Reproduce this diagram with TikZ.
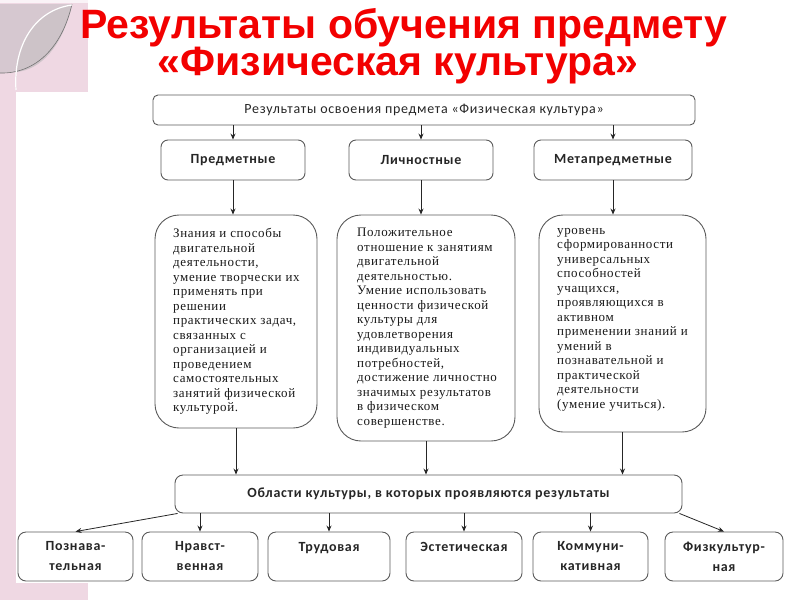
\documentclass[tikz,border=0pt]{standalone}
\usepackage{fontspec}
\setmainfont{Liberation Serif}
\newfontfamily\boxfont[LetterSpace=5]{Liberation Serif}
\newfontfamily\calfont[LetterSpace=5]{Carlito}
\newfontfamily\titlefont{Liberation Sans}
\usepackage{tikz}
\usetikzlibrary{arrows.meta}
\definecolor{pinkbg}{HTML}{EFD8E3}
\definecolor{leafgrey}{HTML}{D6C8D0}
\definecolor{lensgrey}{HTML}{CDC3C8}
\definecolor{boxgrey}{HTML}{5A5A5A}
\definecolor{titlered}{HTML}{F20000}

\begin{document}
\begin{tikzpicture}[x=1pt,y=-1pt,
    main_box/.style={draw=boxgrey, line width=0.9pt, rounded corners=5pt, inner sep=0pt,
        font=\calfont\fontsize{14}{16}\selectfont, text=black!85},
    head_box/.style={main_box, rounded corners=7pt, font=\calfont\bfseries\fontsize{14}{16}\selectfont},
    text_box/.style={draw=boxgrey, line width=0.9pt, rounded corners=24pt, inner sep=0pt},
    area_box/.style={head_box, rounded corners=8pt, align=center, font=\calfont\bfseries\fontsize{14}{20}\selectfont},
    box_text/.style={anchor=north west, align=left, inner sep=0pt, text=black!90,
        font=\boxfont\fontsize{13}{14.5}\selectfont},
    arr/.style={-{Stealth[length=6pt,width=5pt]}, line width=0.8pt, black!85}]
    \useasboundingbox (0,0) rectangle (800,600);

    % pink frame at the left
    \fill[pinkbg] (0,0) rectangle (16,600);
    \fill[pinkbg] (0,0) rectangle (88,92);
    \fill[pinkbg] (0,583) rectangle (88,600);
    \fill[leafgrey] (0,4) -- (0,73) .. controls (35,74) and (62,48) .. (72,4) -- cycle;
    \fill[lensgrey] (16,90) .. controls (13,45) and (35,10) .. (72,5) .. controls (62,48) and (40,70) .. (16,72) -- cycle;
    \draw[black!55, line width=0.6pt] (0,73) .. controls (35,74) and (62,48) .. (72,4);
    \draw[white, line width=1.2pt] (16,90) .. controls (13,45) and (35,10) .. (72,5);
    \fill[white!70!pinkbg] (0,0) rectangle (88,3);

    % title
    \node[text=titlered, font=\titlefont\bfseries\fontsize{41}{44}\selectfont] (t1) at (404,28) {Результаты обучения предмету};
    \node[text=titlered, font=\titlefont\bfseries\fontsize{41}{44}\selectfont] (t2) at (398,66) {«Физическая культура»};

    % boxes
    \node[main_box, minimum width=542pt, minimum height=30pt] (1) at (424,110) {Результаты освоения предмета «Физическая культура»};
    \node[head_box, minimum width=144pt, minimum height=40pt] (2) at (233,160) {Предметные};
    \node[head_box, minimum width=144pt, minimum height=40pt] (3) at (421,160) {Личностные};
    \node[head_box, minimum width=158pt, minimum height=40pt] (4) at (613,160) {Метапредметные};

    \node[text_box, minimum width=162pt, minimum height=213pt] (5) at (236,321.5) {};
    \node[text_box, minimum width=178pt, minimum height=226pt] (6) at (426,328) {};
    \node[text_box, minimum width=167pt, minimum height=217pt] (7) at (622.5,323.5) {};

    \node[box_text] (5t) at (173,228) {Знания и способы\\двигательной\\деятельности,\\умение творчески их\\применять при\\решении\\практических задач,\\связанных с\\организацией и\\проведением\\самостоятельных\\занятий физической\\культурой.};
    \node[box_text] (6t) at (357,228) {Положительное\\отношение к занятиям\\двигательной\\деятельностью.\\Умение использовать\\ценности физической\\культуры для\\удовлетворения\\индивидуальных\\потребностей,\\достижение личностно\\значимых результатов\\в физическом\\совершенстве.};
    \node[box_text] (7t) at (557,228) {уровень\\сформированности\\универсальных\\способностей\\учащихся,\\проявляющихся в\\активном\\применении знаний и\\умений в\\познавательной и\\практической\\деятельности\\(умение учиться).};

    \node[head_box, rounded corners=8pt, minimum width=507pt, minimum height=38pt] (8) at (428.5,494) {Области культуры, в которых проявляются результаты};

    \node[area_box, minimum width=115pt, minimum height=49pt] (9) at (75.5,556.5) {Познава-\\тельная};
    \node[area_box, minimum width=116pt, minimum height=49pt] (10) at (200,556.5) {Нравст-\\венная};
    \node[area_box, minimum width=122pt, minimum height=49pt] (11) at (329,556.5) {Трудовая\\\mbox{}};
    \node[area_box, minimum width=116pt, minimum height=49pt] (12) at (464,556.5) {Эстетическая\\\mbox{}};
    \node[area_box, minimum width=115pt, minimum height=49pt] (13) at (590.5,556.5) {Коммуни-\\кативная};
    \node[area_box, minimum width=118pt, minimum height=49pt] (14) at (724,556.5) {Физкультур-\\ная};

    % connectors
    \draw[arr] (2.north |- 1.south) -- (2.north);
    \draw[arr] (3.north |- 1.south) -- (3.north);
    \draw[arr] (4.north |- 1.south) -- (4.north);
    \draw[arr] (2.south) -- (2.south |- 5.north);
    \draw[arr] (3.south) -- (3.south |- 6.north);
    \draw[arr] (4.south) -- (4.south |- 7.north);
    \draw[arr] (5.south) -- (5.south |- 8.north);
    \draw[arr] (6.south) -- (6.south |- 8.north);
    \draw[arr] (7.south) -- (7.south |- 8.north);
    \draw[arr] ([xshift=3pt]8.south west) -- (9.north);
    \draw[arr] (10.north |- 8.south) -- (10.north);
    \draw[arr] (11.north |- 8.south) -- (11.north);
    \draw[arr] (12.north |- 8.south) -- (12.north);
    \draw[arr] (13.north |- 8.south) -- (13.north);
    \draw[arr] ([xshift=-3pt]8.south east) -- (14.north);
\end{tikzpicture}
\end{document}
